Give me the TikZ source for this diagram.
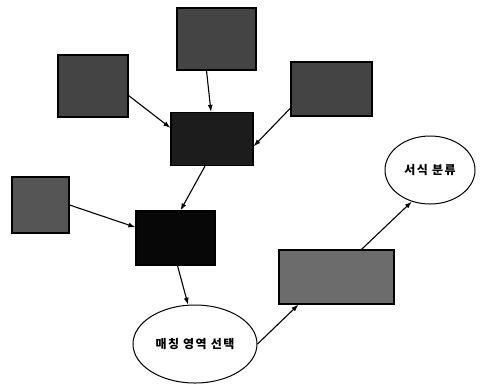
\documentclass[tikz,border=0pt]{standalone}
\usepackage{fontspec}
\newfontfamily\kr{Noto Sans CJK KR}[BoldFont={Noto Sans CJK KR Black},LetterSpace=12]
\usetikzlibrary{arrows.meta,shapes.geometric}
\begin{document}
\begin{tikzpicture}[x=1pt,y=-1pt,
  boxnode/.style={draw=black,line width=1.2pt,rectangle,inner sep=0pt},
  ellnode/.style={draw=black,line width=1pt,ellipse,inner sep=0pt,fill=white,font=\kr\bfseries\fontsize{12}{14}\selectfont},
  conn/.style={draw=black,line width=1.1pt,-{Latex[length=7pt,width=5pt]}}]
\useasboundingbox (0,0) rectangle (486,384);
\definecolor{gA}{HTML}{444444}
\definecolor{gB}{HTML}{1C1C1C}
\definecolor{gC}{HTML}{555555}
\definecolor{gD}{HTML}{070707}
\definecolor{gE}{HTML}{6C6C6C}
\node[boxnode,fill=gA,minimum width=79pt,minimum height=62pt] (tb) at (216.5,39) {};
\node[boxnode,fill=gA,minimum width=70pt,minimum height=62pt] (lb) at (93,86) {};
\node[boxnode,fill=gA,minimum width=81pt,minimum height=54pt] (rb) at (331.5,89) {};
\node[boxnode,fill=gB,minimum width=82pt,minimum height=53pt] (cb) at (212,139) {};
\node[boxnode,fill=gC,minimum width=57pt,minimum height=56pt] (l2) at (40.5,205) {};
\node[boxnode,fill=gD,minimum width=79pt,minimum height=54pt] (c2) at (175.5,238) {};
\node[boxnode,fill=gE,minimum width=115pt,minimum height=54pt] (br) at (336.5,277) {};
\node[ellnode,minimum width=124pt,minimum height=78pt] (e1) at (195,344) {매칭 영역 선택};
\node[ellnode,minimum width=90pt,minimum height=68pt] (e2) at (430,170) {서식 분류};
\draw[conn] ([xshift=-10pt]tb.south) -- ([xshift=-1pt]cb.north);
\draw[conn] (lb.-15) -- (cb.165);
\draw[conn] (rb.205) -- (cb.-10);
\draw[conn] ([xshift=-7pt]cb.south) -- ([xshift=5pt]c2.north);
\draw[conn] (l2.east) -- (c2.165);
\draw[conn] ([xshift=2pt]c2.south) -- (e1.100);
\draw[conn] (e1.east) -- ([xshift=20pt]br.south west);
\draw[conn] ([xshift=25pt]br.north) -- (e2.240);
\end{tikzpicture}
\end{document}
